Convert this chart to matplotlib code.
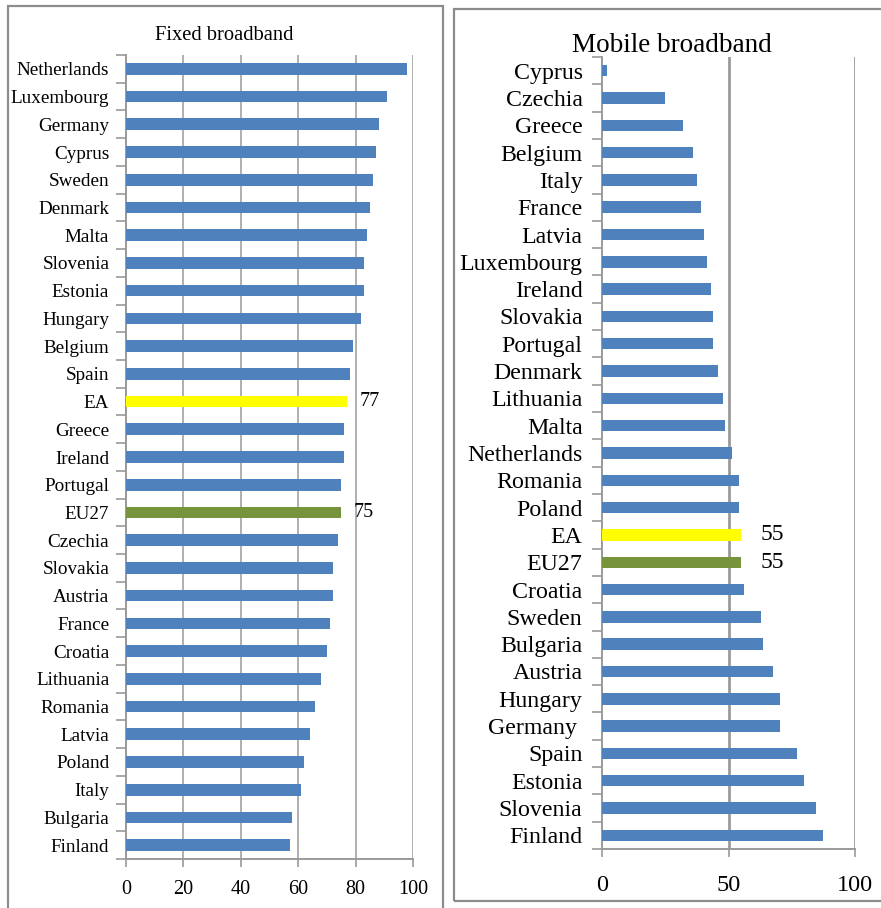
import matplotlib
matplotlib.use("Agg")
import matplotlib.pyplot as plt
from matplotlib.patches import Rectangle
import numpy as np

plt.rcParams['font.family'] = ['Liberation Serif', 'DejaVu Serif']

fixed_countries = ["Netherlands", "Luxembourg", "Germany", "Cyprus", "Sweden", "Denmark",
                   "Malta", "Slovenia", "Estonia", "Hungary", "Belgium", "Spain", "EA",
                   "Greece", "Ireland", "Portugal", "EU27", "Czechia", "Slovakia", "Austria",
                   "France", "Croatia", "Lithuania", "Romania", "Latvia", "Poland", "Italy",
                   "Bulgaria", "Finland"]
fixed_values = [98, 91, 88, 87, 86, 85, 84, 83, 83, 82, 79, 78, 77, 76, 76, 75, 75, 74, 72,
                72, 71, 70, 68, 66, 64, 62, 61, 58, 57]

mobile_countries = ["Cyprus", "Czechia", "Greece", "Belgium", "Italy", "France", "Latvia",
                    "Luxembourg", "Ireland", "Slovakia", "Portugal", "Denmark", "Lithuania",
                    "Malta", "Netherlands", "Romania", "Poland", "EA", "EU27", "Croatia",
                    "Sweden", "Bulgaria", "Austria", "Hungary", "Germany ", "Spain", "Estonia",
                    "Slovenia", "Finland"]
mobile_values = [2, 25, 32, 36, 37.5, 39, 40.5, 41.5, 43, 44, 44, 46, 48, 48.5, 51.5, 54, 54,
                 55, 55, 56, 63, 63.5, 67.5, 70.5, 70.5, 77, 80, 84.5, 87.5]

fixed_ticks = [0, 20, 40, 60, 80, 100]
mobile_ticks = [0, 50, 100]

BLUE = "#4F81BD"
YELLOW = "#FFFF00"
GREEN = "#77933C"
GRID = "#9A9A9A"

W, H = 881, 908
fig = plt.figure(figsize=(W / 100, H / 100), dpi=100)


def fx(px):
    return px / W


def fy(py):
    return 1 - py / H


def colors_for(names):
    out = []
    for n in names:
        if n.strip() == "EA":
            out.append(YELLOW)
        elif n.strip() == "EU27":
            out.append(GREEN)
        else:
            out.append(BLUE)
    return out


def setup(ax, names, values, ticks, label_size, tick_size, xpad, ypad, grid_lw, lab_off, lab_size):
    n = len(names)
    y = np.arange(n)
    ax.barh(y, values, height=0.42, color=colors_for(names), zorder=3)
    ax.set_ylim(n - 0.5, -0.5)
    ax.set_xlim(ticks[0], ticks[-1])
    ax.set_xticks(ticks)
    ax.set_yticks(y)
    ax.set_yticklabels(names, fontsize=label_size)
    ax.set_yticks(np.arange(n + 1) - 0.5, minor=True)
    ax.tick_params(axis='y', which='major', length=0, pad=ypad)
    ax.tick_params(axis='y', which='minor', length=7, width=1.2, color=GRID, direction='out')
    ax.tick_params(axis='x', length=6, width=1.2, color=GRID, labelsize=tick_size, pad=xpad)
    for t in ticks[1:]:
        ax.axvline(t, color=GRID, lw=grid_lw, zorder=1)
    for s in ("top", "right"):
        ax.spines[s].set_visible(False)
    for s in ("left", "bottom"):
        ax.spines[s].set_color(GRID)
        ax.spines[s].set_linewidth(1.4)
    for i, (nm, v) in enumerate(zip(names, values)):
        if nm.strip() in ("EA", "EU27"):
            ax.annotate(f"{v:g}", xy=(v, i), xytext=(lab_off, 0), textcoords="offset points",
                        va="center", ha="left", fontsize=lab_size, zorder=4)


# Left panel
axL = fig.add_axes([fx(126), fy(859), fx(413) - fx(126), fy(55) - fy(859)])
setup(axL, fixed_countries, fixed_values, fixed_ticks, 13.8, 14.5, 9, 12, 1.1, 9, 14.5)

# Right panel
axR = fig.add_axes([fx(602), fy(849), fx(855) - fx(602), fy(57) - fy(849)])
setup(axR, mobile_countries, mobile_values, mobile_ticks, 17.2, 17.5, 13, 14, 2.0, 14, 17)

fig.text(fx(224), fy(36), "Fixed broadband", ha="center", va="center", fontsize=14.8)
fig.text(fx(672), fy(45), "Mobile broadband", ha="center", va="center", fontsize=19.5)

# panel frames
fig.patches.append(Rectangle((fx(8), fy(912)), fx(443) - fx(8), fy(6) - fy(912),
                             transform=fig.transFigure, fill=False, edgecolor="#8C8C8C",
                             lw=1.6, zorder=0))
fig.patches.append(Rectangle((fx(454), fy(901)), fx(890) - fx(454), fy(9) - fy(901),
                             transform=fig.transFigure, fill=False, edgecolor="#8C8C8C",
                             lw=1.6, zorder=0))

fig.savefig("out.png", dpi=100)
